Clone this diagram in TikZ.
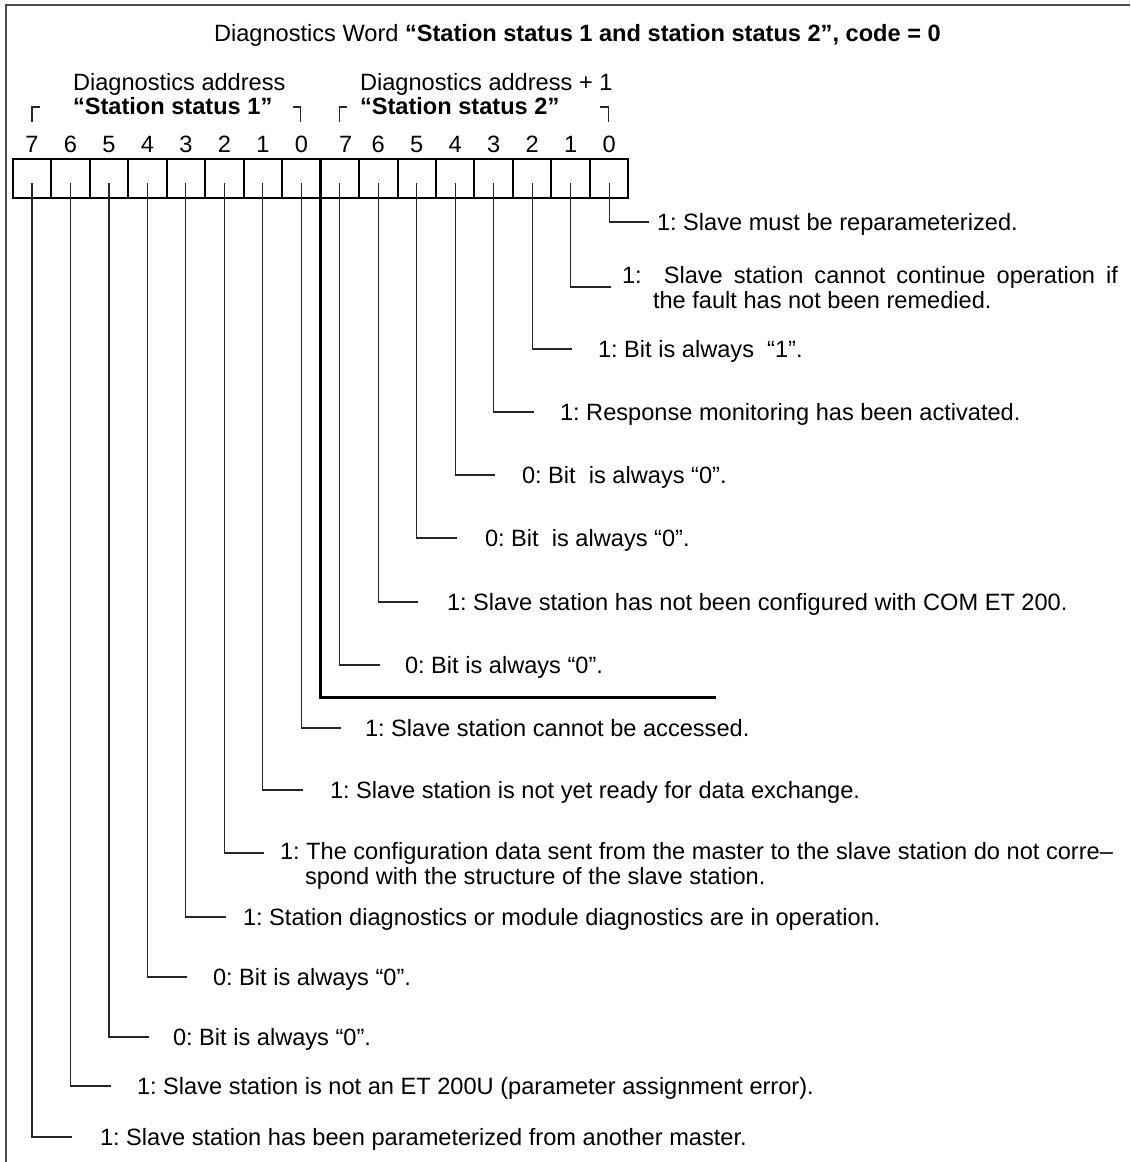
\documentclass[tikz,border=0pt]{standalone}
\usepackage{fontspec}
\setmainfont{Liberation Sans}
\frenchspacing
\newcommand\dfont{\fontsize{23.6}{28}\selectfont\frenchspacing}
\tikzset{
  lbl/.style={anchor=base west, inner sep=0pt, outer sep=0pt, font=\dfont},
  digit/.style={anchor=base, inner sep=0pt, font=\dfont},
  bitbox/.style={draw=black, line width=2pt, minimum width=38.47pt, minimum height=39pt, inner sep=0pt, outer sep=0pt},
  conn/.style={draw=black!85, line width=1.1pt},
  brk/.style={draw=black!85, line width=1.1pt},
  heavy/.style={draw=black, line width=3pt},
  framec/.style={draw=black!70, line width=1.6pt}
}
% #1 box index, #2 connector row y, #3 text centre y, #4 text x, #5 text
\newcommand\bitrow[5]{%
  \pgfmathsetmacro\cx{12.8+38.47*(#1+0.5)}%
  \coordinate (e#1) at ({\cx+40},#2);%
  \node[lbl] (t#1) at (#4,{#3+8.5}) {#5};%
  \draw[conn] ([yshift=-4.5pt]b#1.center) |- (e#1);%
}
\begin{document}
\begin{tikzpicture}[x=1pt,y=-1pt]
\useasboundingbox (0,0) rectangle (1130,1162);
\fill[white] (0,0) rectangle (1130,1162);
% frame (top and left edges visible)
\draw[framec] (6,1162) -- (6,5) -- (1130,5);
% headings
\node[lbl] (title) at (214,41.5) {Diagnostics Word \textbf{“Station status 1 and station status 2”, code = 0}};
\node[lbl] (addr1) at (73,90.5) {Diagnostics address};
\node[lbl] (st1) at (73,114.5) {\textbf{“Station status 1”}};
\node[lbl] (addr2) at (360,90.5) {Diagnostics address + 1};
\node[lbl] (st2) at (360,114.5) {\textbf{“Station status 2”}};
% brackets
\draw[brk] (32.0,122) -- (32.0,107) -- (40,107);
\draw[brk] (293,107) -- (300.7,107) -- (300.7,122);
\draw[brk] (339.2,122) -- (339.2,107) -- (347,107);
\draw[brk] (600,107) -- (608.2,107) -- (608.2,122);
% boxes and bit numbers
\foreach \i in {0,...,15}{
  \pgfmathsetmacro\bx{12.8+38.47*(\i+0.5)}
  \pgfmathtruncatemacro\bn{7-mod(\i,8)}
  \node[bitbox] (b\i) at (\bx,178.5) {};
  \pgfmathsetmacro\dx{\bx+(\i==8 ? 6 : 0)}
  \node[digit] (d\i) at (\dx,152.5) {\bn};
}
% heavy divider between the two bytes
\coordinate (heavyend) at (716,697);
\draw[heavy] (b7.north east) |- (heavyend);
% station status 2
\bitrow{15}{222}{222}{657}{1: Slave must be reparameterized.}
\bitrow{14}{287}{275}{622}{\makebox[496pt][s]{1:\ \ Slave station cannot continue operation if}}
\node[lbl] (t14b) at (653,308.5) {the fault has not been remedied.};
\bitrow{13}{349}{349}{598}{1: Bit is always\ \ “1”.}
\bitrow{12}{412}{412}{560}{1: Response monitoring has been activated.}
\bitrow{11}{475}{475}{522}{0: Bit\ \ is always “0”.}
\bitrow{10}{538}{538}{485}{0: Bit\ \ is always “0”.}
\bitrow{9}{602}{602}{447}{1: Slave station has not been configured with COM ET 200.}
\bitrow{8}{665}{665}{405}{0: Bit is always “0”.}
% station status 1
\bitrow{7}{728}{728}{365}{1: Slave station cannot be accessed.}
\bitrow{6}{790}{790}{330}{1: Slave station is not yet ready for data exchange.}
\bitrow{5}{853}{851}{280}{1: The configuration data sent from the master to the slave station do not corre–}
\node[lbl] (t5b) at (305,884) {spond with the structure of the slave station.};
\bitrow{4}{917}{917}{243}{1: Station diagnostics or module diagnostics are in operation.}
\bitrow{3}{977}{977}{213}{0: Bit is always “0”.}
\bitrow{2}{1037}{1037}{173}{0: Bit is always “0”.}
\bitrow{1}{1086}{1086}{137}{1: Slave station is not an ET 200U (parameter assignment error).}
\bitrow{0}{1137}{1137}{100}{1: Slave station has been parameterized from another master.}
\end{tikzpicture}
\end{document}
